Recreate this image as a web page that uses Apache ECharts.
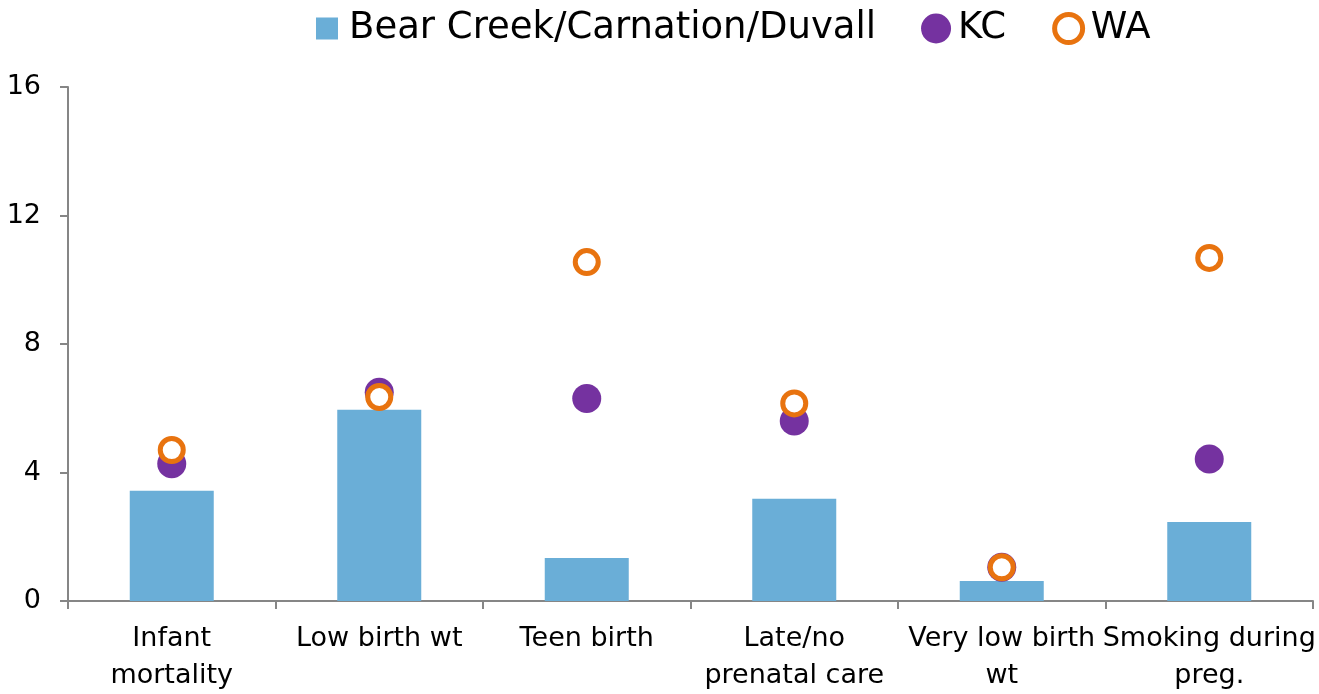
<!DOCTYPE html>
<html>
<head>
<meta charset="utf-8">
<script src="https://cdn.jsdelivr.net/npm/echarts@6/dist/echarts.min.js"></script>
<style>html,body{margin:0;padding:0;background:#fff;overflow:hidden;}#c{width:1319px;height:694px;}</style>
</head>
<body>
<div id="c"></div>
<script>
var categories = ['Infant\nmortality', 'Low birth wt', 'Teen birth', 'Late/no\nprenatal care', 'Very low birth\nwt', 'Smoking during\npreg.'];
var areaValues = [3.43, 5.95, 1.34, 3.18, 0.62, 2.46];
var kcValues = [4.27, 6.5, 6.3, 5.6, 1.05, 4.42];
var waValues = [4.7, 6.35, 10.55, 6.15, 1.05, 10.68];
var yTicks = [0, 4, 8, 12, 16];

var FONT = 'DejaVu Sans';
var chart = echarts.init(document.getElementById('c'));
chart.setOption({
  animation: false,
  textStyle: { fontFamily: FONT },
  legend: {
    top: 5,
    left: 307,
    itemGap: 45,
    itemWidth: 30,
    itemHeight: 30,
    textStyle: { fontSize: 37, color: '#000', fontFamily: FONT, padding: [0, 0, 0, 2] },
    data: [
      { name: 'Bear Creek/Carnation/Duvall', icon: 'path://M0,0L0.001,0Z M30,30L30.001,30Z M4,4h22v22h-22z' },
      { name: 'KC', icon: 'circle' },
      { name: 'WA', icon: 'path://M0,0L0.001,0Z M30,30L30.001,30Z M1,15a14,14 0 1,0 28,0a14,14 0 1,0 -28,0z', itemStyle: { color: '#ffffff', borderColor: '#E8730F', borderWidth: 5 } }
    ]
  },
  grid: { left: 68, right: 6, top: 87, bottom: 84, containLabel: false },
  xAxis: {
    type: 'category',
    data: categories,
    axisLine: { lineStyle: { color: '#868686', width: 2 } },
    axisTick: { show: true, length: 8, lineStyle: { color: '#868686', width: 2 } },
    axisLabel: { fontSize: 27, color: '#000', margin: 19, lineHeight: 37, interval: 0, fontFamily: FONT }
  },
  yAxis: {
    type: 'value',
    min: yTicks[0],
    max: yTicks[yTicks.length - 1],
    interval: 4,
    splitLine: { show: false },
    axisLine: { show: true, lineStyle: { color: '#868686', width: 2 } },
    axisTick: { show: true, length: 8, lineStyle: { color: '#868686', width: 2 } },
    axisLabel: { fontSize: 27, color: '#000', margin: 27, fontFamily: FONT }
  },
  series: [
    {
      name: 'Bear Creek/Carnation/Duvall',
      type: 'bar',
      data: areaValues,
      barWidth: 84,
      itemStyle: { color: '#6AAED7' }
    },
    {
      name: 'KC',
      type: 'scatter',
      data: kcValues,
      symbol: 'circle',
      symbolSize: 29,
      itemStyle: { color: '#7532A0', opacity: 1 },
      z: 3
    },
    {
      name: 'WA',
      type: 'scatter',
      data: waValues,
      symbol: 'circle',
      symbolSize: 23,
      itemStyle: { color: '#ffffff', borderColor: '#E8730F', borderWidth: 5, opacity: 1 },
      z: 4
    }
  ]
});
</script>
</body>
</html>
